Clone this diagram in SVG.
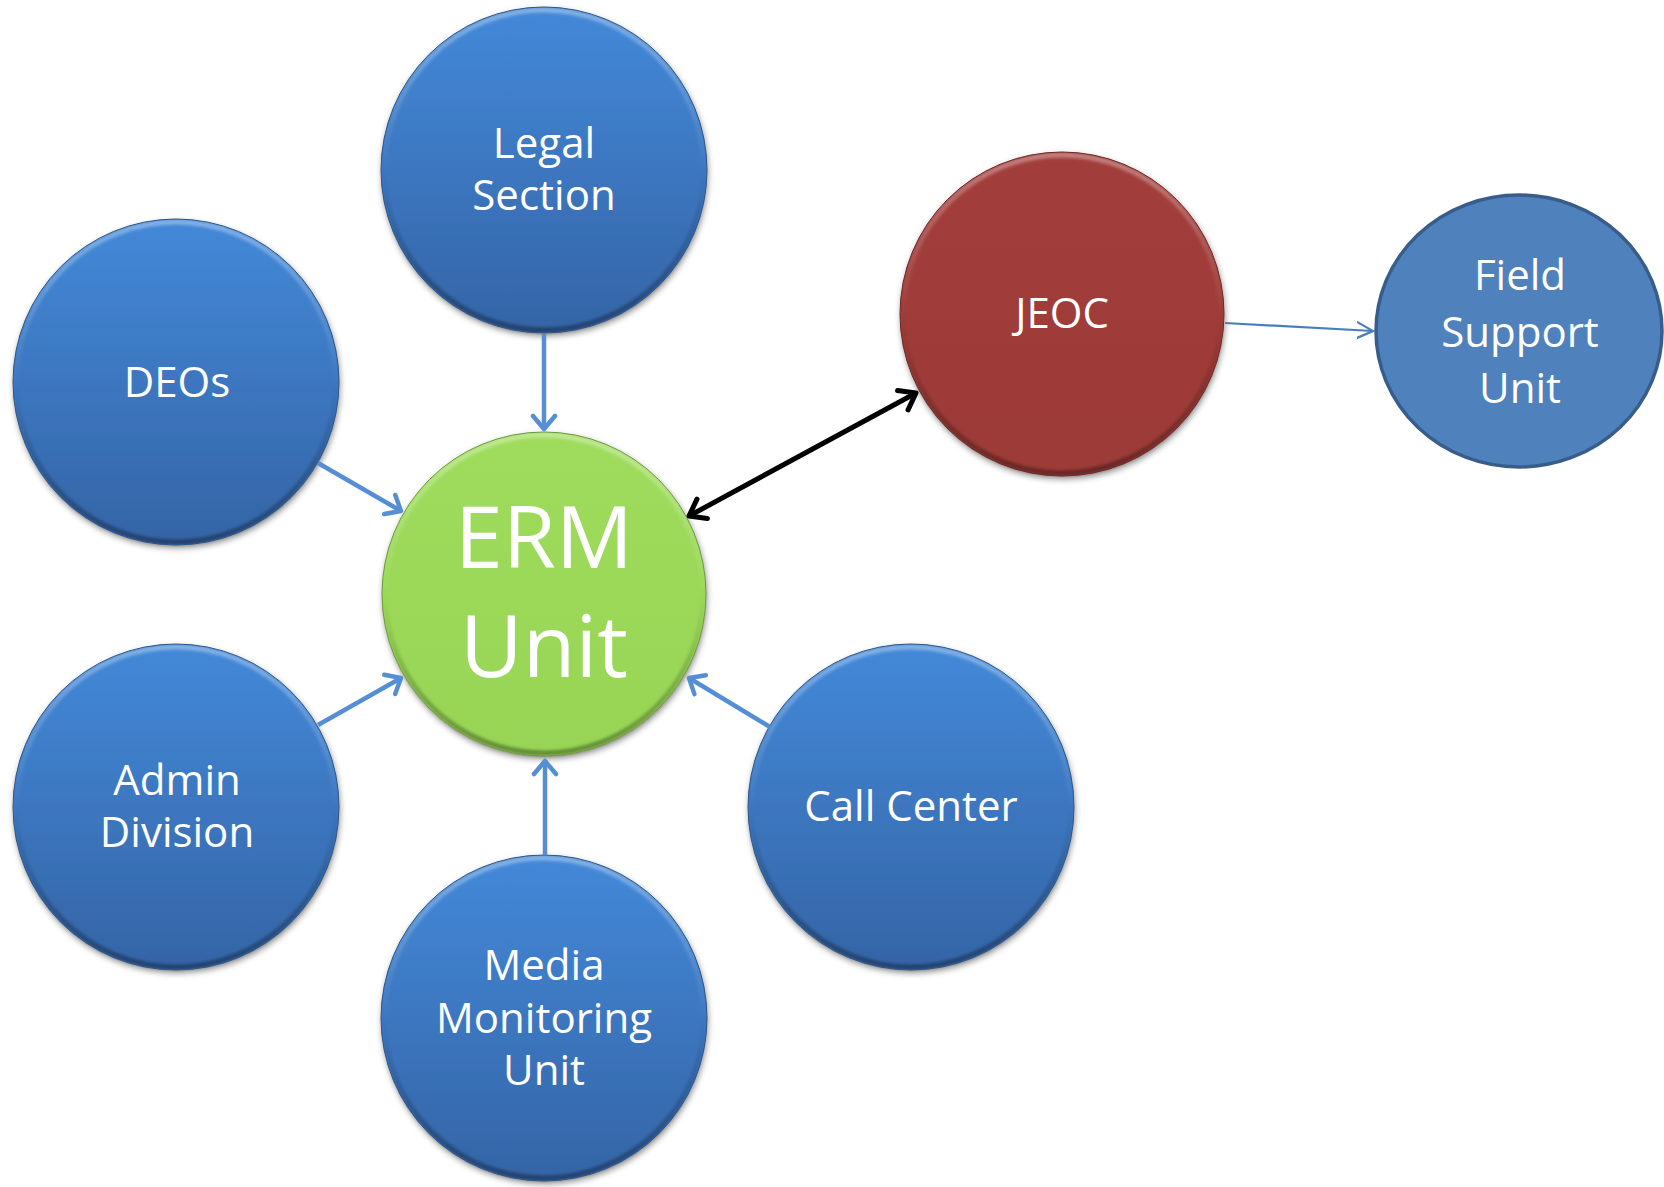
<svg xmlns="http://www.w3.org/2000/svg" width="1664" height="1187" viewBox="0 0 1664 1187">
  <defs>
    <linearGradient id="gBlue" x1="0" y1="0" x2="0" y2="1">
      <stop offset="0" stop-color="#4389d9"/>
      <stop offset="1" stop-color="#3564a6"/>
    </linearGradient>
    <linearGradient id="gGreen" x1="0" y1="0" x2="0" y2="1">
      <stop offset="0" stop-color="#9fdc5c"/>
      <stop offset="1" stop-color="#98d556"/>
    </linearGradient>
    <linearGradient id="gRed" x1="0" y1="0" x2="0" y2="1">
      <stop offset="0" stop-color="#a23d3b"/>
      <stop offset="1" stop-color="#9c3a38"/>
    </linearGradient>
    <linearGradient id="gRim" x1="0" y1="0" x2="0" y2="1">
      <stop offset="0" stop-color="#ffffff" stop-opacity="0.35"/>
      <stop offset="0.5" stop-color="#ffffff" stop-opacity="0"/>
      <stop offset="0.5" stop-color="#000000" stop-opacity="0"/>
      <stop offset="1" stop-color="#000000" stop-opacity="0.35"/>
    </linearGradient>
    <filter id="shadow" x="-20%" y="-20%" width="140%" height="140%">
      <feDropShadow dx="1" dy="3" stdDeviation="3" flood-color="#000" flood-opacity="0.45"/>
    </filter>
    <filter id="soft" x="-10%" y="-10%" width="120%" height="120%">
      <feGaussianBlur stdDeviation="1.5"/>
    </filter>
    <marker id="aBlue" markerUnits="userSpaceOnUse" viewBox="-16 -16 32 32" refX="0" refY="0" markerWidth="32" markerHeight="32" orient="auto">
      <path d="M-13,-11 L0,0 L-13,11" fill="none" stroke="#558ed5" stroke-width="4.5" stroke-linecap="round" stroke-linejoin="round"/>
    </marker>
    <marker id="aBlack" markerUnits="userSpaceOnUse" viewBox="-18 -18 36 36" refX="0" refY="0" markerWidth="36" markerHeight="36" orient="auto-start-reverse">
      <path d="M-15,-11 L0,0 L-15,11" fill="none" stroke="#000000" stroke-width="5" stroke-linecap="round" stroke-linejoin="round"/>
    </marker>
    <marker id="aThin" markerUnits="userSpaceOnUse" viewBox="-16 -16 32 32" refX="0" refY="0" markerWidth="32" markerHeight="32" orient="auto">
      <path d="M-16,-8 L0,0 L-16,8" fill="none" stroke="#4a7ebb" stroke-width="2.2" stroke-linecap="round"/>
    </marker>
  </defs>
  <style>
    .blue { fill: url(#gBlue); filter: url(#shadow); }
    .green { fill: url(#gGreen); filter: url(#shadow); }
    .red { fill: url(#gRed); filter: url(#shadow); }
    .rim { fill: none; stroke: url(#gRim); stroke-width: 5; filter: url(#soft); }
    .edge { fill: none; stroke-width: 1; }
    .lbl { font-family: "Open Sans", "Noto Sans", "Liberation Sans", sans-serif; font-size: 42px; fill: #ffffff; text-anchor: middle; }
    .big { font-size: 86px; }
    .conn { fill: none; stroke: #558ed5; stroke-width: 4.5; marker-end: url(#aBlue); }
  </style>
  <rect width="1664" height="1187" fill="#ffffff"/>

  <g id="legal-section">
    <circle class="blue" cx="544" cy="170" r="163"/>
    <circle class="rim" cx="544" cy="170" r="160"/>
    <circle class="edge" cx="544" cy="170" r="163" stroke="#2c5688"/>
    <text class="lbl" x="544" y="158">Legal</text>
    <text class="lbl" x="544" y="210">Section</text>
  </g>

  <g id="deos">
    <circle class="blue" cx="176" cy="382" r="163"/>
    <circle class="rim" cx="176" cy="382" r="160"/>
    <circle class="edge" cx="176" cy="382" r="163" stroke="#2c5688"/>
    <text class="lbl" x="177" y="397">DEOs</text>
  </g>

  <g id="admin-division">
    <circle class="blue" cx="176" cy="807" r="163"/>
    <circle class="rim" cx="176" cy="807" r="160"/>
    <circle class="edge" cx="176" cy="807" r="163" stroke="#2c5688"/>
    <text class="lbl" x="177" y="795">Admin</text>
    <text class="lbl" x="177" y="847">Division</text>
  </g>

  <g id="media-monitoring-unit">
    <circle class="blue" cx="544" cy="1018" r="163"/>
    <circle class="rim" cx="544" cy="1018" r="160"/>
    <circle class="edge" cx="544" cy="1018" r="163" stroke="#2c5688"/>
    <text class="lbl" x="544" y="980">Media</text>
    <text class="lbl" x="544" y="1033">Monitoring</text>
    <text class="lbl" x="544" y="1085">Unit</text>
  </g>

  <g id="call-center">
    <circle class="blue" cx="911" cy="807" r="163"/>
    <circle class="rim" cx="911" cy="807" r="160"/>
    <circle class="edge" cx="911" cy="807" r="163" stroke="#2c5688"/>
    <text class="lbl" x="911" y="821">Call Center</text>
  </g>

  <g id="erm-unit">
    <circle class="green" cx="544" cy="594" r="162"/>
    <circle class="rim" cx="544" cy="594" r="159"/>
    <circle class="edge" cx="544" cy="594" r="162" stroke="#6f9a3c"/>
    <text class="lbl big" x="544" y="568">ERM</text>
    <text class="lbl big" x="544" y="677">Unit</text>
  </g>

  <g id="jeoc">
    <circle class="red" cx="1062" cy="314" r="162"/>
    <circle class="rim" cx="1062" cy="314" r="159"/>
    <circle class="edge" cx="1062" cy="314" r="162" stroke="#6e2826"/>
    <text class="lbl" x="1062" y="328">JEOC</text>
  </g>

  <g id="field-support-unit">
    <ellipse cx="1519" cy="331" rx="143" ry="136" fill="#4f81bd" stroke="#385d8a" stroke-width="3.5"/>
    <text class="lbl" x="1520" y="290">Field</text>
    <text class="lbl" x="1520" y="347">Support</text>
    <text class="lbl" x="1520" y="403">Unit</text>
  </g>

  <g id="connectors">
    <line class="conn" x1="544" y1="334" x2="544" y2="429"/>
    <line class="conn" x1="318" y1="463" x2="401" y2="511"/>
    <line class="conn" x1="318" y1="725" x2="401" y2="678"/>
    <line class="conn" x1="770" y1="727" x2="689" y2="678"/>
    <line class="conn" x1="545" y1="855" x2="545" y2="761"/>
    <line x1="689" y1="516" x2="916" y2="393" fill="none" stroke="#000000" stroke-width="5" marker-start="url(#aBlack)" marker-end="url(#aBlack)"/>
    <line x1="1225" y1="323" x2="1373" y2="331" fill="none" stroke="#4a7ebb" stroke-width="2.2" marker-end="url(#aThin)"/>
  </g>
</svg>
